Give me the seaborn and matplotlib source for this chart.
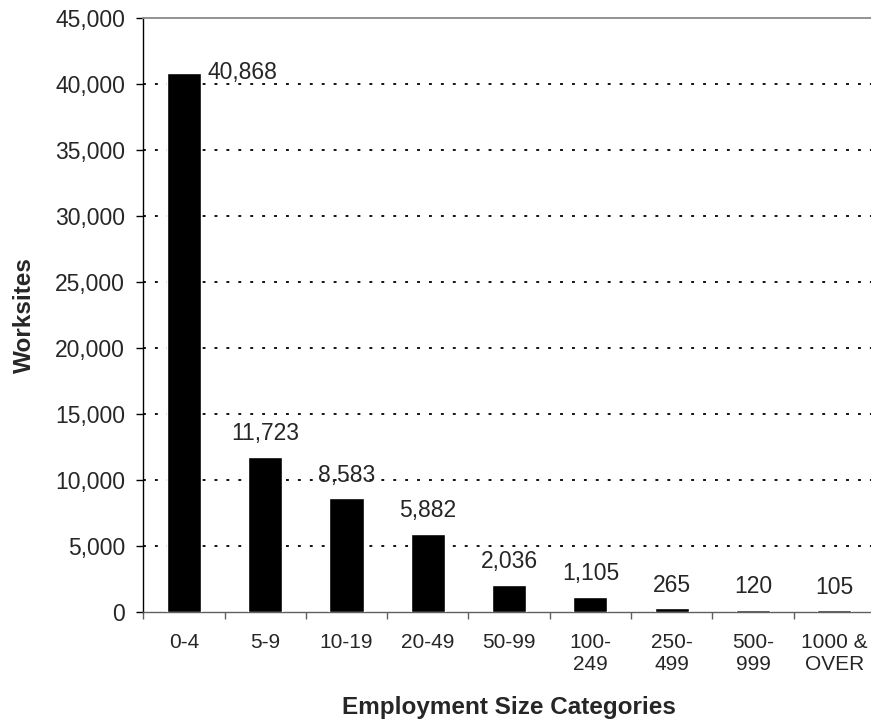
import matplotlib
matplotlib.use("Agg")
import matplotlib.pyplot as plt
import seaborn as sns
from matplotlib.ticker import FuncFormatter, FixedLocator

# data
categories = ["0-4", "5-9", "10-19", "20-49", "50-99",
              "100-\n249", "250-\n499", "500-\n999", "1000 &\nOVER"]
worksites = [40868, 11723, 8583, 5882, 2036, 1105, 265, 120, 105]
y_ticks = [0, 5000, 10000, 15000, 20000, 25000, 30000, 35000, 40000, 45000]

sns.set_style("white")
plt.rcParams['font.family'] = ['Liberation Sans', 'DejaVu Sans']

fig = plt.figure(figsize=(8.71, 7.22), dpi=100)
ax = fig.add_axes([0.1645, 0.1528, 0.840, 0.8219])

sns.barplot(x=categories, y=worksites, color="black", saturation=1,
            width=0.42, ax=ax, zorder=3)

ax.set_xlim(-0.5, len(categories) - 0.5)
ax.set_ylim(0, 45000)
ax.set_yticks(y_ticks)
ax.yaxis.set_major_formatter(FuncFormatter(lambda v, p: f"{int(v):,}"))

# dotted grid
for v in y_ticks[1:-1]:
    ax.axhline(v, color="black", lw=1.3, linestyle=(0, (1.6, 5.0)), zorder=1)

# spines
ax.spines["right"].set_visible(False)
ax.spines["top"].set_color("#8a8a8a")
ax.spines["top"].set_linewidth(1.3)
ax.spines["left"].set_color("black")
ax.spines["left"].set_linewidth(1.0)
ax.spines["bottom"].set_color("#606060")
ax.spines["bottom"].set_linewidth(1.0)

# ticks: x tick marks at category boundaries, labels centered
ax.xaxis.set_minor_locator(FixedLocator([i - 0.5 for i in range(len(categories) + 1)]))
ax.tick_params(axis="x", which="major", length=0, pad=15, labelsize=15)
ax.tick_params(axis="x", which="minor", length=5, width=1, color="#606060", direction="out", bottom=True)
ax.tick_params(axis="y", which="major", length=5, width=1, color="black", direction="out",
               left=True, pad=8, labelsize=16.5)
for lab in ax.get_xticklabels():
    lab.set_linespacing(1.2)

ax.set_xlabel("Employment Size Categories", fontsize=17.5, fontweight="bold", labelpad=16)
ax.set_ylabel("Worksites", fontsize=17.5, fontweight="bold", labelpad=14)

# value labels
for i, val in enumerate(worksites):
    if i == 0:
        ax.annotate(f"{val:,}", xy=(i + 0.21, val), xytext=(5, 0), textcoords="offset points",
                    ha="left", va="center", fontsize=16.5, zorder=5)
    else:
        ax.annotate(f"{val:,}", xy=(i, val), xytext=(0, 12), textcoords="offset points",
                    ha="center", va="baseline", fontsize=16.5, zorder=5)

fig.savefig("out.png", dpi=100)
